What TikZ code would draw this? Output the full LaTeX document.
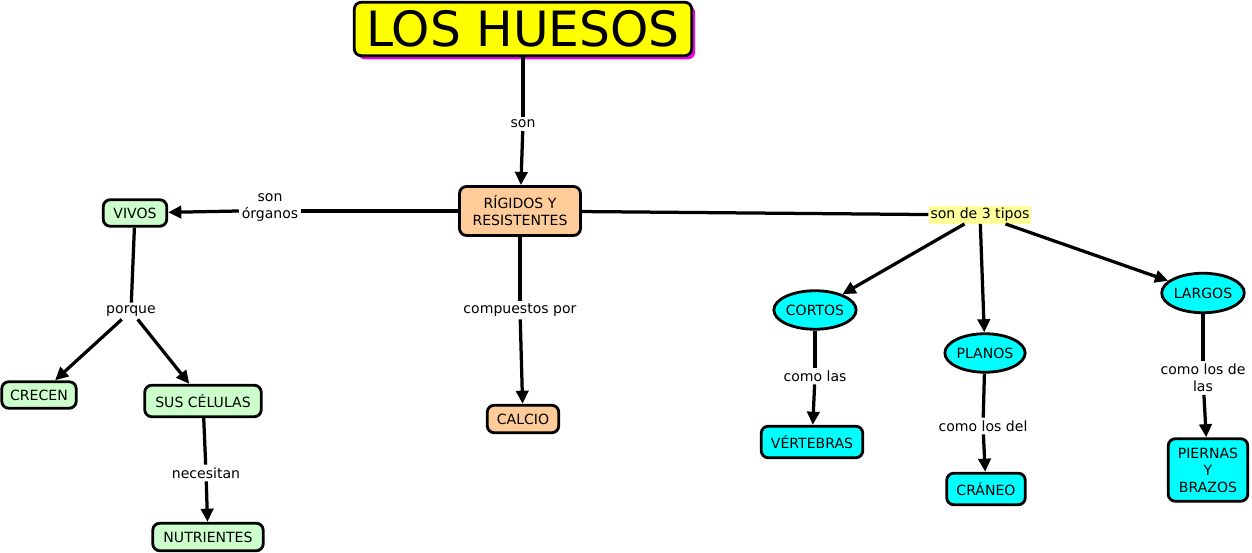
\documentclass[tikz,border=0pt]{standalone}
\usepackage{fontspec}
\setmainfont{DejaVu Sans}
\usetikzlibrary{arrows.meta,shapes.geometric,shadows}
\definecolor{ttlyellow}{RGB}{255,255,0}
\definecolor{shadowmag}{RGB}{240,0,240}
\definecolor{greenbox}{RGB}{204,255,204}
\definecolor{peach}{RGB}{255,204,153}
\definecolor{cyanbox}{RGB}{0,255,255}
\definecolor{lblyellow}{RGB}{255,255,153}
\begin{document}
\begin{tikzpicture}[x=0.02cm,y=-0.02cm,
  txt/.style={font=\fontsize{8}{9.7}\selectfont},
  box/.style={txt, draw, line width=1.6pt, rounded corners=4pt, inner sep=0pt, align=center},
  ell/.style={txt, ellipse, draw, line width=1.6pt, fill=cyanbox, inner sep=0pt},
  lbl/.style={txt, inner sep=1.5pt, align=center},
  ln/.style={line width=1.85pt},
  arr/.style={line width=1.85pt, -{Triangle[length=7.5pt,width=7pt]}}
]
\useasboundingbox (0,0) rectangle (1252,553);

% concepts
\node[box, fill=ttlyellow, minimum width=6.75cm, minimum height=1.07cm,
      font=\fontsize{27.7}{30}\selectfont,
      general shadow={fill=shadowmag, shadow xshift=2pt, shadow yshift=-2pt}]
      (title) at (523,29) {LOS HUESOS};
\node[box, fill=peach, minimum width=2.42cm, minimum height=0.98cm] (rig) at (520,211) {RÍGIDOS Y\\RESISTENTES};
\node[box, fill=greenbox, minimum width=1.27cm, minimum height=0.53cm] (vivos) at (135,213) {VIVOS};
\node[box, fill=greenbox, minimum width=1.49cm, minimum height=0.53cm] (crecen) at (39,395) {CRECEN};
\node[box, fill=greenbox, minimum width=2.33cm, minimum height=0.63cm] (sus) at (203,401) {SUS CÉLULAS};
\node[box, fill=greenbox, minimum width=2.21cm, minimum height=0.55cm] (nutr) at (208,537) {NUTRIENTES};
\node[box, fill=peach, minimum width=1.43cm, minimum height=0.55cm] (calcio) at (523,419) {CALCIO};
\node[ell, minimum width=1.63cm, minimum height=0.77cm] (cortos) at (815,310) {CORTOS};
\node[ell, minimum width=1.55cm, minimum height=0.77cm] (planos) at (985,353) {PLANOS};
\node[ell, minimum width=1.59cm, minimum height=0.79cm] (largos) at (1203,293) {LARGOS};
\node[box, fill=cyanbox, minimum width=2.03cm, minimum height=0.63cm] (vert) at (812,442) {VÉRTEBRAS};
\node[box, fill=cyanbox, minimum width=1.57cm, minimum height=0.63cm] (cran) at (986,489) {CRÁNEO};
\node[box, fill=cyanbox, minimum width=1.59cm, minimum height=1.25cm] (pier) at (1208,470) {PIERNAS\\Y\\BRAZOS};

% linking phrases
\node[lbl] (son) at (523,124) {son};
\node[lbl] (organos) at (270,208) {son\\órganos};
\node[lbl] (porque) at (131,311) {porque};
\node[lbl] (neces) at (206,473) {necesitan};
\node[lbl] (comp) at (520,310) {compuestos por};
\node[lbl, fill=lblyellow, inner sep=1pt] (tipos) at (980,215) {son de 3 tipos};
\node[lbl] (comolas) at (815,376) {como las};
\node[lbl] (comodel) at (983,426) {como los del};
\node[lbl] (comodelas) at (1203,378) {como los de\\las};

% connectors
\draw[ln] (title) -- (son);
\draw[arr] (son) -- (rig);
\draw[ln] (rig.west) -- (organos.east |- rig.west);
\draw[arr] (organos.west |- rig.west) -- (vivos);
\draw[ln] (vivos) -- (porque);
\draw[arr] (porque) -- (crecen);
\draw[arr] (porque) -- (sus);
\draw[ln] (sus) -- (neces);
\draw[arr] (neces) -- (nutr);
\draw[ln] (rig) -- (comp);
\draw[arr] (comp) -- (calcio);
\draw[ln] (rig) -- (tipos);
\draw[arr] (tipos) -- (cortos);
\draw[arr] (tipos) -- (planos);
\draw[arr] (tipos) -- (largos);
\draw[ln] (cortos) -- (comolas);
\draw[arr] (comolas) -- (vert);
\draw[ln] (planos) -- (comodel);
\draw[arr] (comodel) -- (cran);
\draw[ln] (largos) -- (comodelas);
\draw[arr] (comodelas) -- (pier);
\end{tikzpicture}
\end{document}
